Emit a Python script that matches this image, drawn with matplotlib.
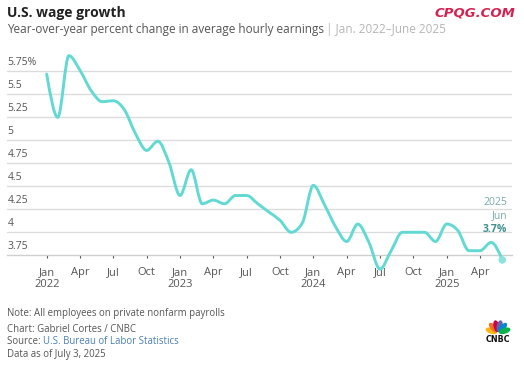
import numpy as np
import matplotlib
matplotlib.use('Agg')
import matplotlib.pyplot as plt
from matplotlib.path import Path
from matplotlib.patches import PathPatch, Ellipse

plt.rcParams['font.family'] = ['Open Sans', 'DejaVu Sans']

W, H = 524, 368

# Jan 2022 .. Jun 2025, year-over-year % change in avg hourly earnings
wage = [5.72, 5.25, 5.92, 5.76, 5.54, 5.42, 5.43, 5.33, 5.07, 4.89, 4.99, 4.76,
        4.40, 4.68, 4.31, 4.35, 4.31, 4.40, 4.40, 4.31, 4.22, 4.13, 4.00, 4.10,
        4.51, 4.30, 4.06, 3.90, 4.09, 3.89, 3.60, 3.80, 4.00, 4.00, 4.00, 3.90,
        4.09, 4.02, 3.80, 3.80, 3.89, 3.70]
months = list(range(len(wage)))
y_ticks = [3.75, 4, 4.25, 4.5, 4.75, 5, 5.25, 5.5, 5.75]
y_labels = ['3.75', '4', '4.25', '4.5', '4.75', '5', '5.25', '5.5', '5.75%']
month_names = ['Jan', 'Apr', 'Jul', 'Oct']
years = [2022, 2023, 2024, 2025]

LINE = '#62d9d3'
GRID = '#dcdcdc'
GRAY = '#555555'


def monotone_path(xs, ys):
    # same tangents as d3.curveMonotoneX, drawn as cubic bezier segments
    xs = np.asarray(xs, float)
    ys = np.asarray(ys, float)
    h = np.diff(xs)
    s = np.diff(ys) / h
    m = np.zeros(len(xs))
    for i in range(1, len(xs) - 1):
        p = (s[i - 1] * h[i] + s[i] * h[i - 1]) / (h[i - 1] + h[i])
        m[i] = (np.sign(s[i - 1]) + np.sign(s[i])) * min(abs(s[i - 1]), abs(s[i]), 0.5 * abs(p))
    m[0] = (3 * s[0] - m[1]) / 2
    m[-1] = (3 * s[-1] - m[-2]) / 2
    verts = [(xs[0], ys[0])]
    codes = [Path.MOVETO]
    for i in range(len(xs) - 1):
        d = h[i] / 3
        verts += [(xs[i] + d, ys[i] + m[i] * d),
                  (xs[i + 1] - d, ys[i + 1] - m[i + 1] * d),
                  (xs[i + 1], ys[i + 1])]
        codes += [Path.CURVE4] * 3
    return Path(verts, codes)


fig = plt.figure(figsize=(W / 100, H / 100), dpi=100)

# plot area in pixels: x 6.7..511.7, y 48.3..255.3 (from top)
ax = fig.add_axes([6.7 / W, 1 - 255.3 / H, 505 / W, 207 / H])
ax.set_xlim(-3.6, 41.85)
ax.set_ylim(3.75, 6.0)

for v in y_ticks[1:]:
    ax.axhline(v, color=GRID, lw=1, zorder=1)
for sp in ['top', 'right', 'left']:
    ax.spines[sp].set_visible(False)
ax.spines['bottom'].set_color('#cfcfcf')
ax.spines['bottom'].set_linewidth(1)

ax.set_yticks([])
for v, lab in zip(y_ticks, y_labels):
    ax.annotate(lab, xy=(0, v), xycoords=ax.get_yaxis_transform(),
                xytext=(0.5, 2.2), textcoords='offset points',
                ha='left', va='bottom', fontsize=7.5, color=GRAY)

xt = list(range(0, len(wage), 3))
xl = []
for t in xt:
    name = month_names[(t % 12) // 3]
    if name == 'Jan':
        xl.append(f'Jan\n{years[t // 12]}')
    else:
        xl.append(name)
ax.set_xticks(xt)
ax.set_xticklabels(xl, fontsize=8, color=GRAY, linespacing=1.15, va='top')
ax.tick_params(axis='x', length=2.5, width=0.8, color='#555555', pad=6)

path = monotone_path(months, wage)
ax.add_patch(PathPatch(path, facecolor='none', edgecolor=LINE, lw=2.1,
                       capstyle='round', joinstyle='round', zorder=3,
                       clip_on=False))
ax.scatter([months[-1]], [wage[-1]], s=30, color='#8fe3df', zorder=4,
           clip_on=False, edgecolors='none')

# end label
ax.text(507 / W, 1 - 202.7 / H, '2025', transform=fig.transFigure,
        ha='right', va='center', fontsize=7.5, color='#78a9ab')
ax.text(507 / W, 1 - 216 / H, 'Jun', transform=fig.transFigure,
        ha='right', va='center', fontsize=7.5, color='#78a9ab')
ax.text(507 / W, 1 - 230 / H, '3.7%', transform=fig.transFigure,
        ha='right', va='center', fontsize=7.5, color='#3f8d8f', fontweight='bold')

# header
fig.text(7 / W, 1 - 12.5 / H, 'U.S. wage growth', fontsize=10,
         fontweight='bold', color='#222222', va='center', ha='left')
sub = fig.text(7 / W, 1 - 30 / H, 'Year-over-year percent change in average hourly earnings',
               fontsize=8.5, color=GRAY, va='center', ha='left')
fig.text(515 / W, 1 - 13.5 / H, 'CPQG.COM', fontsize=9.5, fontweight='bold',
         fontstyle='italic', color='#d62150', va='center', ha='right',
         family=['DejaVu Sans'])

renderer = fig.canvas.get_renderer()
bb = sub.get_window_extent(renderer)
fig.text(bb.x1 / W + 2 / W, 1 - 30 / H, '| Jan. 2022\u2013June 2025',
         fontsize=8.5, color='#b5b5b5', va='center', ha='left')

# footer
fig.text(7 / W, 1 - 313.3 / H, 'Note: All employees on private nonfarm payrolls',
         fontsize=6.9, color=GRAY, va='center')
fig.text(7 / W, 1 - 329 / H, 'Chart: Gabriel Cortes / CNBC',
         fontsize=6.9, color=GRAY, va='center')
src = fig.text(7 / W, 1 - 342 / H, 'Source: ', fontsize=6.9, color=GRAY, va='center')
bb = src.get_window_extent(renderer)
fig.text(bb.x1 / W, 1 - 342 / H, 'U.S. Bureau of Labor Statistics',
         fontsize=6.9, color='#4a80b8', va='center')
fig.text(7 / W, 1 - 355 / H, 'Data as of July 3, 2025',
         fontsize=6.9, color=GRAY, va='center')

# CNBC peacock
lax = fig.add_axes([485 / W, 1 - 335 / H, 26 / W, 17 / H])
lax.set_xlim(-13, 13)
lax.set_ylim(-1.5, 15.5)
lax.set_aspect('equal')
lax.axis('off')
feathers = ['#fcb711', '#f37021', '#cc004c', '#6460aa', '#0089d0', '#0db14b']
angles = [162, 131, 103, 77, 49, 18]
for c, a in zip(feathers, angles):
    r = np.radians(a)
    lax.add_patch(Ellipse((7 * np.cos(r), 7 * np.sin(r) + 0.5), 10.5, 4.4,
                          angle=a, color=c))
fig.text(498 / W, 1 - 339.5 / H, 'CNBC', fontsize=5.8, fontweight='bold',
         color='#111111', ha='center', va='center', family=['DejaVu Sans'])

fig.savefig('out.png', dpi=100)
